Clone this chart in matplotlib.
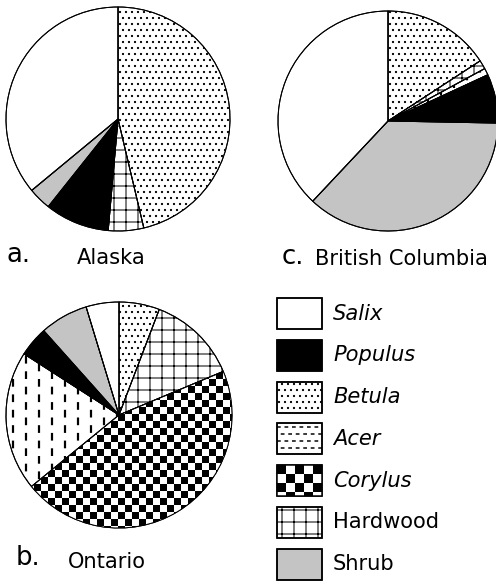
import numpy as np
import matplotlib
matplotlib.use("Agg")
import matplotlib.pyplot as plt
from matplotlib.patches import Rectangle, Wedge

W, H = 496, 585

# slice order, clockwise from 12 o'clock
taxa = ["Betula", "Hardwood", "Corylus", "Acer", "Populus", "Shrub", "Salix"]
alaska = [46.3, 5.1, 0.0, 0.0, 9.3, 3.3, 36.0]
british_columbia = [15.8, 1.3, 0.0, 1.0, 7.2, 36.7, 38.0]
ontario = [5.8, 12.9, 45.4, 20.0, 4.3, 6.9, 4.7]

legend_order = ["Salix", "Populus", "Betula", "Acer", "Corylus", "Hardwood", "Shrub"]
italic = {"Salix", "Populus", "Betula", "Acer", "Corylus"}

plt.rcParams["font.family"] = "DejaVu Sans"
plt.rcParams["hatch.linewidth"] = 1.0

fig = plt.figure(figsize=(W / 72, H / 72), dpi=72)
ax = fig.add_axes([0, 0, 1, 1])

style = {
    "Salix": dict(facecolor="white", hatch=None),
    "Populus": dict(facecolor="black", hatch=None),
    "Betula": dict(facecolor="white", hatch=".."),
    "Acer": dict(facecolor="white", hatch=None),
    "Corylus": dict(facecolor="white", hatch=None),
    "Hardwood": dict(facecolor="white", hatch="+"),
    "Shrub": dict(facecolor="#c4c4c4", hatch=None),
}


def checker_fill(patch, x0, y0, x1, y1, size=7):
    nx = int(np.ceil((x1 - x0) / size))
    ny = int(np.ceil((y1 - y0) / size))
    board = np.indices((ny, nx)).sum(axis=0) % 2
    im = ax.imshow(board, cmap="gray", interpolation="nearest",
                   extent=(x0, x0 + nx * size, y0 + ny * size, y0), zorder=2)
    im.set_clip_path(patch)


def dash_fill(patch, x0, y0, x1, y1, vertical=True, step=14, dash=4, lw=2):
    pos = np.arange(x0 + step / 2, x1, step) if vertical else np.arange(y0 + step / 2, y1, step)
    for k, p in enumerate(pos):
        off = 0 if k % 2 == 0 else dash
        if vertical:
            ln = ax.vlines(p, y0, y1, colors="black", linewidth=lw,
                           linestyles=[(off, (dash, dash))], zorder=2)
        else:
            ln = ax.hlines(p, x0, x1, colors="black", linewidth=lw,
                           linestyles=[(off, (dash, dash))], zorder=2)
        ln.set_clip_path(patch)


def draw_pie(values, center, radius):
    names = [t for t, v in zip(taxa, values) if v > 0]
    vals = [v for v in values if v > 0]
    wedges, _ = ax.pie(vals, center=center, radius=radius, startangle=-90,
                       counterclock=True, frame=True,
                       wedgeprops=dict(edgecolor="black", linewidth=1.0))
    cx, cy = center
    box = (cx - radius, cy - radius, cx + radius, cy + radius)
    for w, n in zip(wedges, names):
        w.set_facecolor(style[n]["facecolor"])
        w.set_zorder(1)
        if style[n]["hatch"]:
            w.set_hatch(style[n]["hatch"])
        if n == "Corylus":
            checker_fill(w, *box)
        if n == "Acer":
            dash_fill(w, *box, vertical=True, step=13, dash=3.5, lw=2.2)
        # outline on top of the fills
        ax.add_patch(Wedge(w.center, w.r, w.theta1, w.theta2, facecolor="none",
                           edgecolor="black", linewidth=1.0, zorder=3))


draw_pie(alaska, (118, 119), 112)
draw_pie(british_columbia, (388, 121), 110)
draw_pie(ontario, (119, 415), 113)

# panel labels
ax.text(7, 262, "a.", fontsize=26, va="baseline", ha="left")
ax.text(77, 264, "Alaska", fontsize=21, va="baseline", ha="left")
ax.text(282, 264, "c.", fontsize=26, va="baseline", ha="left")
ax.text(315, 265, "British Columbia", fontsize=21, va="baseline", ha="left")
ax.text(16, 565, "b.", fontsize=26, va="baseline", ha="left")
ax.text(68, 568, "Ontario", fontsize=21, va="baseline", ha="left")

# legend
bx, bw, bh = 277, 45, 31
top0, dy = 298, 41.8
for i, n in enumerate(legend_order):
    y0 = top0 + i * dy
    r = Rectangle((bx, y0), bw, bh, facecolor=style[n]["facecolor"],
                  edgecolor="black", linewidth=1.5, hatch=style[n]["hatch"], zorder=1)
    ax.add_patch(r)
    if n == "Corylus":
        checker_fill(r, bx, y0, bx + bw, y0 + bh, size=9)
    if n == "Acer":
        dash_fill(r, bx, y0, bx + bw, y0 + bh, vertical=False, step=7, dash=2.5, lw=1.5)
    ax.add_patch(Rectangle((bx, y0), bw, bh, facecolor="none",
                           edgecolor="black", linewidth=1.5, zorder=3))
    ax.text(333, y0 + bh / 2, n, fontsize=21, va="center", ha="left",
            style="italic" if n in italic else "normal")

ax.set_xlim(0, W)
ax.set_ylim(H, 0)
ax.set_aspect("equal")
ax.axis("off")

fig.savefig("out.png", dpi=72)
